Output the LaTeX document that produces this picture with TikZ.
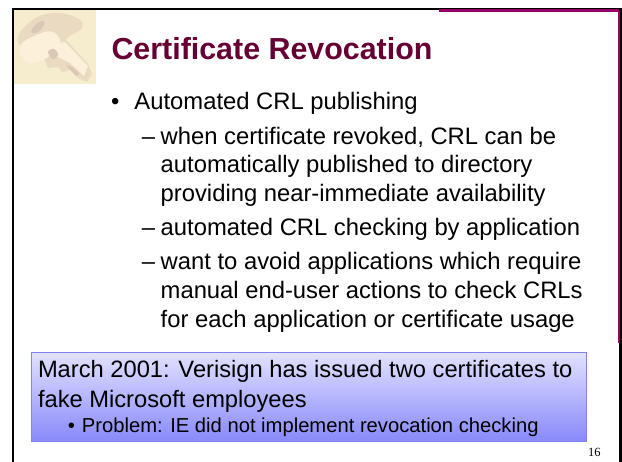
\documentclass[tikz,border=0pt]{standalone}
\usepackage{fontspec}
\setmainfont{Liberation Sans}
\newfontfamily\serifnum{Liberation Serif}
\definecolor{titlec}{RGB}{102,0,51}
\definecolor{accent}{RGB}{153,0,102}
\definecolor{boxedge}{RGB}{130,130,235}
\definecolor{boxtop}{RGB}{226,226,255}
\definecolor{boxbot}{RGB}{136,136,250}
\definecolor{keybg}{RGB}{246,236,206}
\definecolor{keyshade}{RGB}{234,218,194}
\definecolor{keydark}{RGB}{218,200,182}
\definecolor{keylight}{RGB}{253,240,218}
\tikzset{
  txt/.style={anchor=base west,inner sep=0pt,outer sep=0pt,text=black},
  body/.style={txt,font=\fontsize{23.8}{28}\selectfont},
  boxt/.style={txt,font=\fontsize{23.7}{28}\selectfont},
  boxs/.style={txt,font=\fontsize{20.2}{24}\selectfont},
}
\begin{document}
\begin{tikzpicture}[x=1pt,y=-1pt]
\useasboundingbox (0,0) rectangle (622,462);
\fill[white] (0,0) rectangle (622,462);
% frame
\draw[black,line width=2.4pt] (13,462) -- (13,9) -- (620.5,9) -- (620.5,462);
% key picture
\fill[keybg] (14,10) rectangle (96,84);
\fill[keyshade] plot[smooth cycle,tension=.7] coordinates {(18,42) (30,22) (53,13) (77,18) (82,28) (67,38) (60,48) (40,60)};
\fill[keyshade] (44,58) -- (48,68) -- (58,67) -- (62,72) -- (70,70) -- (78,78) -- (87,82) -- (92,74) -- (88,64) -- (66,40) -- (52,44) -- cycle;
\fill[keylight] plot[smooth cycle,tension=.7] coordinates {(20,46) (37,35) (53,32) (60,45) (43,60) (27,62)};
\fill[keylight] (52,44) -- (65,42) -- (88,66) -- (84,76) -- (70,63) -- (56,56) -- cycle;
\fill[keydark] plot[smooth cycle,tension=.7] coordinates {(31,32) (36,24) (44,21) (43,27) (36,33)};
\fill[keydark] plot[smooth cycle,tension=.7] coordinates {(48,52) (54,49) (58,55) (53,59)};
\fill[keydark] (66,65) -- (72,67) -- (80,74) -- (76,76) -- cycle;
% accent
\draw[accent,line width=3pt] (439,11) -- (619,11);
\draw[accent,line width=2pt] (619,11) -- (619,343);
% title
\node[txt,text=titlec,font=\fontsize{30.4}{34}\bfseries\selectfont] (title) at (111.5,60) {Certificate Revocation};
% body
\node[body] (b0) at (134.5,110) {\makebox[0pt][r]{\textbullet\hspace{15pt}}Automated CRL publishing};
\node[body] (b1) at (160.7,144.5) {\makebox[0pt][r]{–\hspace{5.7pt}}when certificate revoked, CRL can be};
\node[body] (b2) at (160.7,172.7) {automatically published to directory};
\node[body] (b3) at (160.7,201.5) {providing near-immediate availability};
\node[body] (b4) at (160.7,235.7) {\makebox[0pt][r]{–\hspace{5.7pt}}automated CRL checking by application};
\node[body] (b5) at (160.7,270) {\makebox[0pt][r]{–\hspace{5.7pt}}want to avoid applications which require};
\node[body] (b6) at (160.7,299) {manual end-user actions to check CRLs};
\node[body] (b7) at (160.7,327.5) {for each application or certificate usage};
% callout
\shade[top color=boxtop,bottom color=boxbot] (31.5,352.5) rectangle (586.5,441.5);
\draw[boxedge,line width=0.8pt] (31.5,352.5) rectangle (586.5,441.5);
\node[boxt] (c1) at (38,378) {March 2001: Verisign has issued two certificates to};
\node[boxt] (c2) at (38,408) {fake Microsoft employees};
\node[boxs] (c3) at (82,433) {\makebox[0pt][r]{\textbullet\hspace{7pt}}Problem: IE did not implement revocation checking};
\node[txt,font=\fontsize{12.5}{14}\serifnum] (pn) at (588,457) {16};
\end{tikzpicture}
\end{document}
